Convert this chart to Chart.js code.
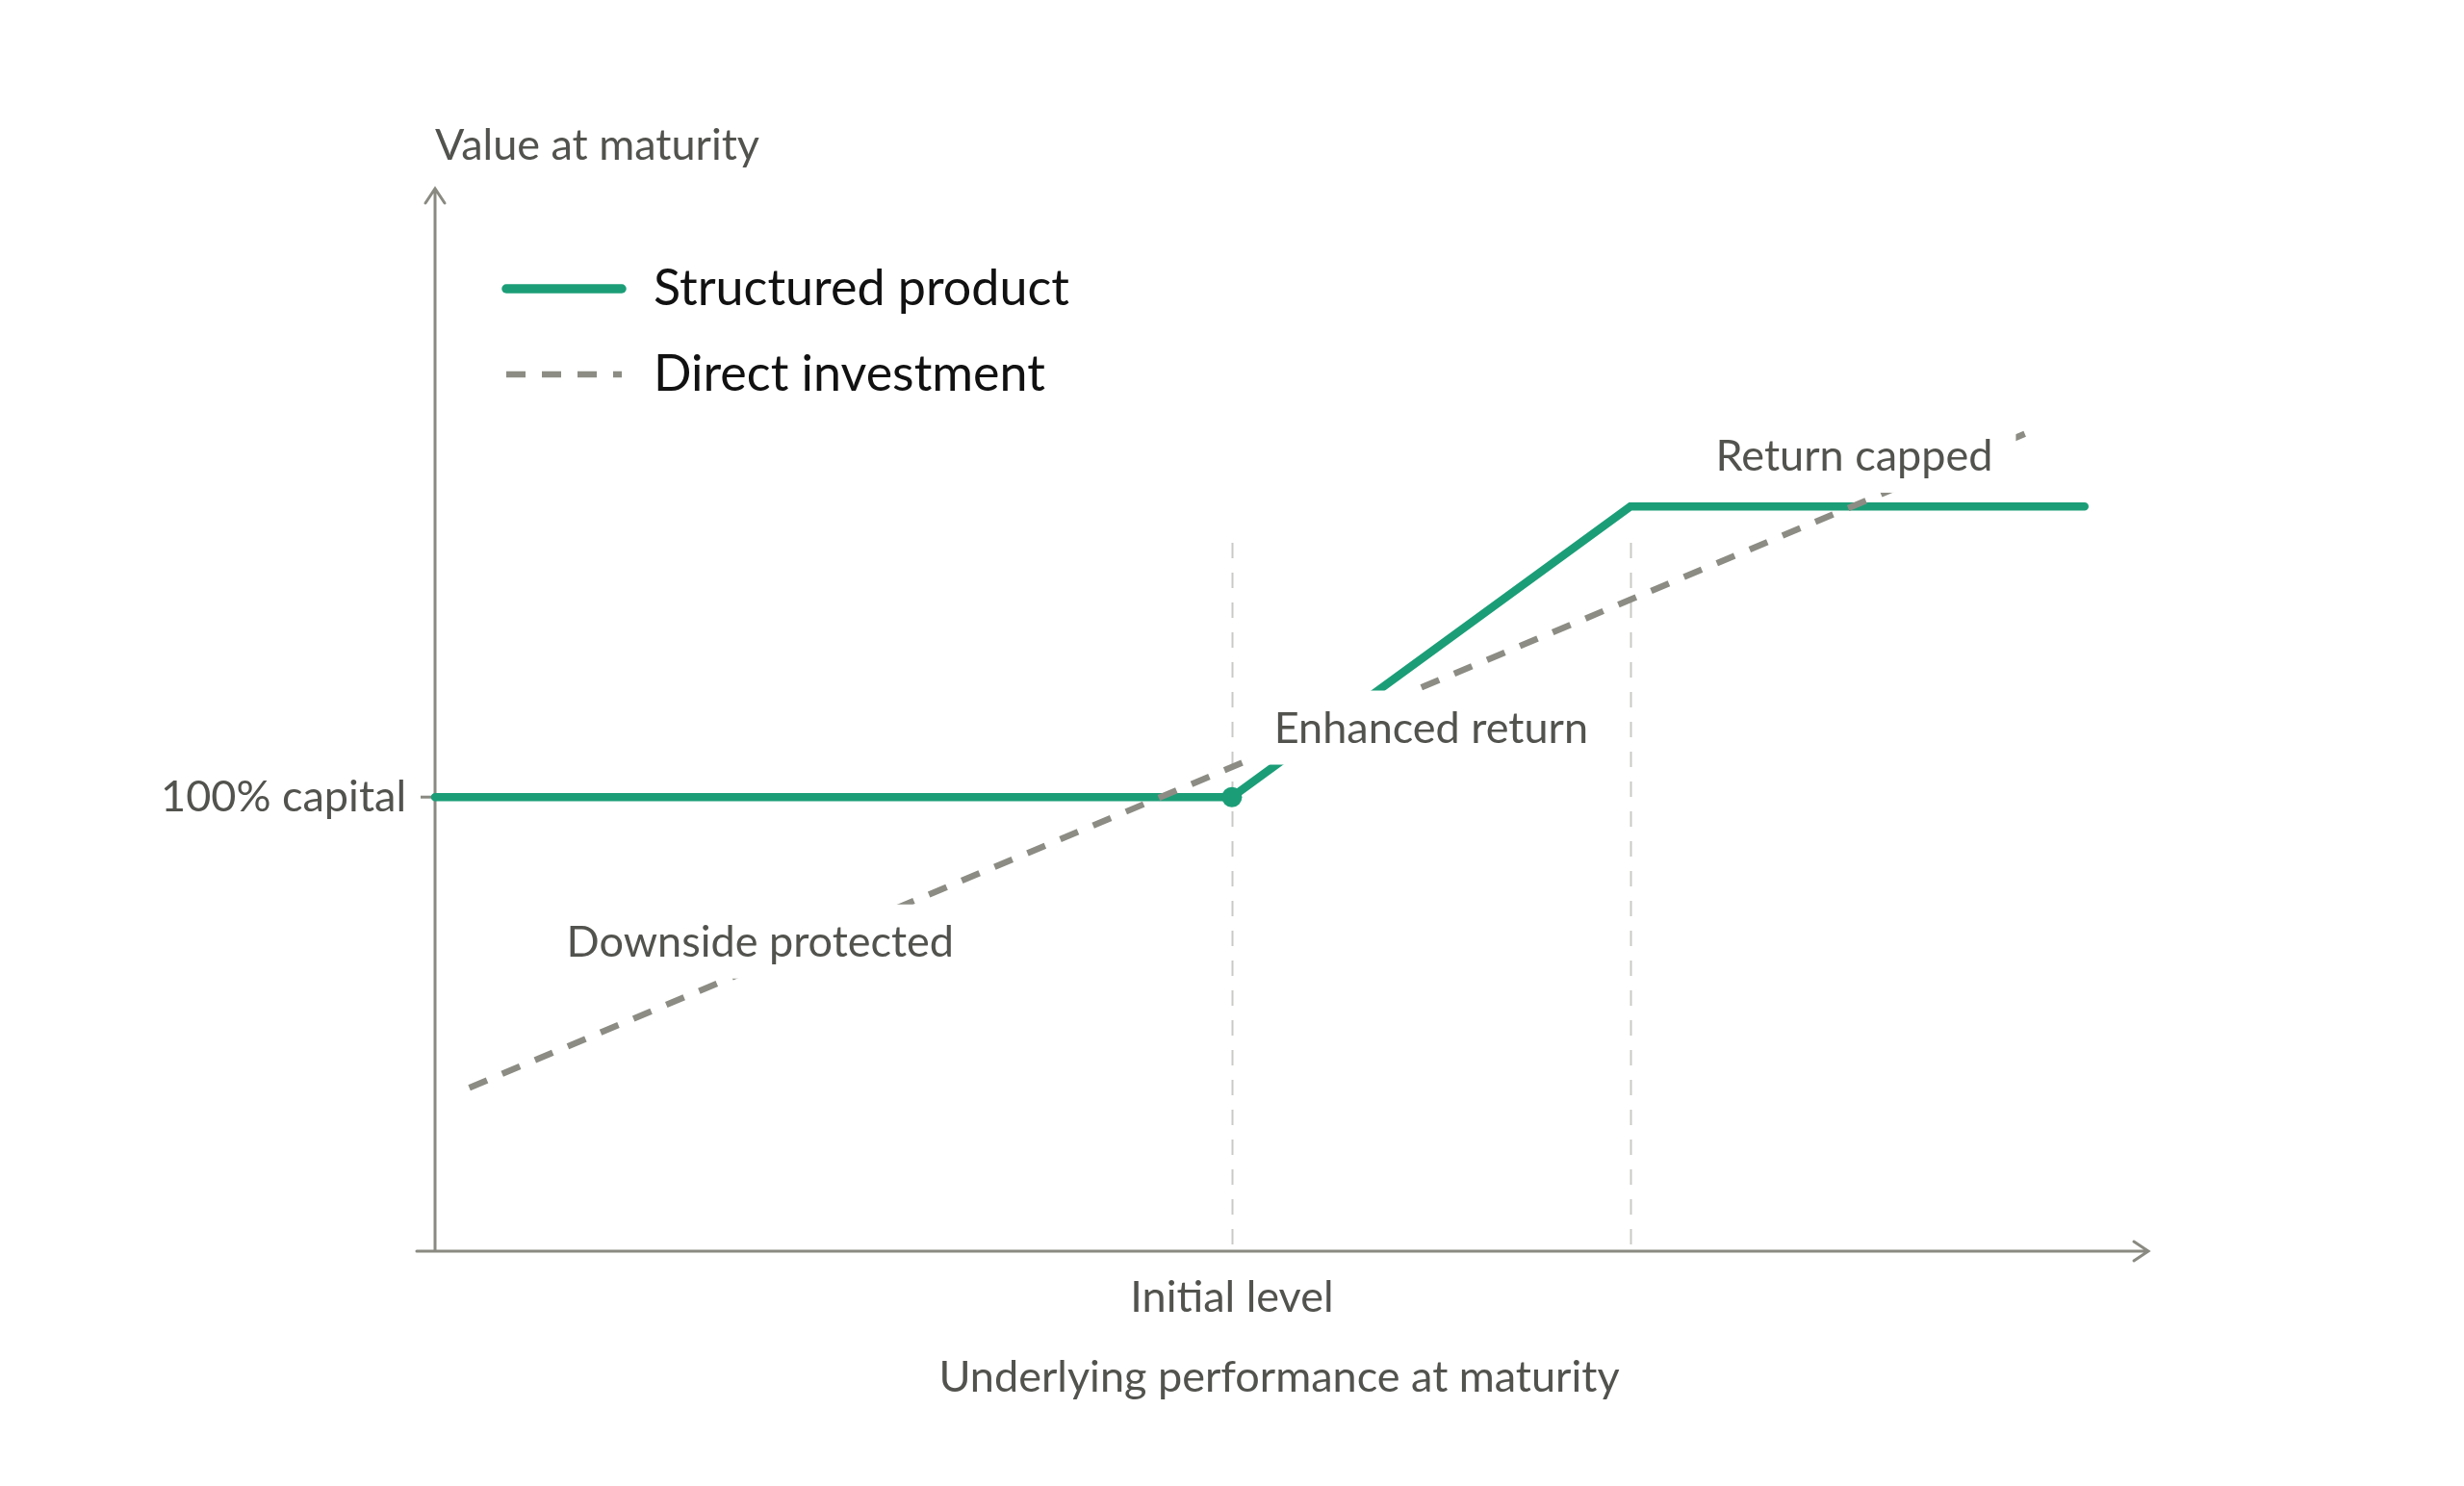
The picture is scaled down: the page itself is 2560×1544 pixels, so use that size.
<!DOCTYPE html>
<html>
<head>
<meta charset="utf-8">
<title>Structured product payoff</title>
<script src="https://cdn.jsdelivr.net/npm/chart.js@4.4.1/dist/chart.umd.min.js"></script>
<style>
  html, body { margin: 0; padding: 0; background: #fff; }
  #wrap { width: 2560px; height: 1544px; }
</style>
</head>
<body>
<div id="wrap"><canvas id="mycanvas" width="2560" height="1544"></canvas></div>
<script>
// payoff values (x: underlying level, y: value at maturity)
var productX = [0, 100, 150, 207];
var productY = [100, 100, 164, 164];
var directX = [4.3, 199.5];
var directY = [36, 180];

var seriesNames = ['Structured product', 'Direct investment'];
var xTickValues = [100];
var xTickLabels = ['Initial level'];
var yTickValues = [100];
var yTickLabels = ['100% capital'];
var guideValues = [100, 150];

var xTitle = 'Underlying performance at maturity';
var yTitle = 'Value at maturity';

var annotations = [
	{ text: 'Enhanced return', x: 125, y: 115.3 },
	{ text: 'Return capped', x: 178.1, y: 175.2 },
	{ text: 'Downside protected', x: 40.8, y: 68.2 }
];

var green = '#1b9e77';
var grey = '#8c8c84';
var axisColor = '#8a8a82';
var textColor = '#52524e';
var font = 'Lato, "Noto Sans", sans-serif';

function points(xs, ys) {
	var out = [];
	for (var i in xs) {
		out.push({ x: xs[i], y: ys[i] });
	}
	return out;
}

var payoffDecor = {
	id: 'payoffDecor',
	beforeDatasetsDraw: function(chart) {
		var ctx = chart.ctx;
		var xs = chart.scales.x, ys = chart.scales.y;
		var x0 = xs.getPixelForValue(0), y0 = ys.getPixelForValue(0);

		// dashed guide lines
		ctx.save();
		ctx.strokeStyle = '#c9c9c5';
		ctx.lineWidth = 2;
		ctx.setLineDash([16, 15]);
		guideValues.forEach(function(v) {
			var px = Math.round(xs.getPixelForValue(v)) + 0.5;
			ctx.beginPath();
			ctx.moveTo(px, ys.getPixelForValue(156));
			ctx.lineTo(px, y0);
			ctx.stroke();
		});
		ctx.restore();

		// axes with arrows
		ctx.save();
		ctx.strokeStyle = axisColor;
		ctx.lineWidth = 3;
		ctx.lineCap = 'round';
		var top = ys.getPixelForValue(ys.max);
		var right = xs.getPixelForValue(xs.max);
		ctx.beginPath();
		ctx.moveTo(x0, y0);
		ctx.lineTo(x0, top);
		ctx.moveTo(x0 - 10, top + 15);
		ctx.lineTo(x0, top);
		ctx.lineTo(x0 + 10, top + 15);
		ctx.moveTo(xs.getPixelForValue(-2.3), y0);
		ctx.lineTo(right, y0);
		ctx.moveTo(right - 15, y0 - 10);
		ctx.lineTo(right, y0);
		ctx.lineTo(right - 15, y0 + 10);
		ctx.stroke();
		ctx.lineCap = 'butt';
		yTickValues.forEach(function(v) {
			var py = ys.getPixelForValue(v);
			ctx.beginPath();
			ctx.moveTo(x0 - 15, py);
			ctx.lineTo(x0, py);
			ctx.stroke();
		});
		ctx.restore();

		// tick labels and titles
		ctx.save();
		ctx.fillStyle = textColor;
		ctx.font = '45px ' + font;
		ctx.textBaseline = 'middle';
		ctx.textAlign = 'right';
		yTickValues.forEach(function(v, i) {
			ctx.fillText(yTickLabels[i], x0 - 30, ys.getPixelForValue(v));
		});
		ctx.textAlign = 'center';
		xTickValues.forEach(function(v, i) {
			ctx.fillText(xTickLabels[i], xs.getPixelForValue(v), y0 + 48);
		});
		ctx.fillText(xTitle, 1329, y0 + 131);
		ctx.textAlign = 'left';
		ctx.fillText(yTitle, x0, 151);
		ctx.restore();
	},
	afterDatasetsDraw: function(chart) {
		var ctx = chart.ctx;
		var xs = chart.scales.x, ys = chart.scales.y;

		// annotation labels on white boxes
		ctx.save();
		ctx.font = '45px ' + font;
		ctx.textAlign = 'center';
		ctx.textBaseline = 'middle';
		annotations.forEach(function(a) {
			var px = xs.getPixelForValue(a.x), py = ys.getPixelForValue(a.y);
			var w = ctx.measureText(a.text).width + 48;
			ctx.fillStyle = '#ffffff';
			ctx.fillRect(px - w / 2, py - 38.5, w, 77);
			ctx.fillStyle = textColor;
			ctx.fillText(a.text, px, py + 1);
		});
		ctx.restore();

		// legend
		ctx.save();
		var sets = chart.data.datasets;
		var rows = [300, 389];
		sets.forEach(function(ds, i) {
			ctx.strokeStyle = ds.borderColor;
			ctx.lineWidth = ds.borderWidth + (i === 0 ? 1 : 0);
			ctx.lineCap = ds.borderCapStyle;
			ctx.setLineDash(ds.borderDash || []);
			ctx.beginPath();
			ctx.moveTo(526, rows[i]);
			ctx.lineTo(646, rows[i]);
			ctx.stroke();
		});
		ctx.setLineDash([]);
		ctx.fillStyle = '#111111';
		ctx.font = '52px ' + font;
		ctx.textBaseline = 'middle';
		ctx.textAlign = 'left';
		sets.forEach(function(ds, i) {
			ctx.fillText(ds.label, 679, rows[i]);
		});
		ctx.restore();
	}
};

var ctx = document.getElementById('mycanvas');

var chart = new Chart(ctx, {
	type: 'line',
	data: {
		datasets: [
			{
				label: seriesNames[0],
				data: points(productX, productY),
				borderColor: green,
				backgroundColor: green,
				borderWidth: 8.5,
				borderCapStyle: 'round',
				borderJoinStyle: 'miter',
				pointRadius: [0, 10.5, 0, 0],
				pointBorderWidth: 0,
				pointBackgroundColor: green,
				tension: 0,
				clip: false,
				order: 1
			},
			{
				label: seriesNames[1],
				data: points(directX, directY),
				borderColor: grey,
				backgroundColor: grey,
				borderWidth: 6.5,
				borderDash: [20, 17],
				borderCapStyle: 'butt',
				pointRadius: 0,
				tension: 0,
				clip: false,
				order: 0
			}
		]
	},
	options: {
		responsive: false,
		animation: false,
		events: [],
		layout: { padding: { left: 452, right: 328, top: 196, bottom: 244 } },
		scales: {
			x: { type: 'linear', min: 0, max: 215, display: false },
			y: { type: 'linear', min: 0, max: 234, display: false }
		},
		plugins: {
			legend: { display: false },
			tooltip: { enabled: false }
		}
	},
	plugins: [payoffDecor]
});
</script>
</body>
</html>
